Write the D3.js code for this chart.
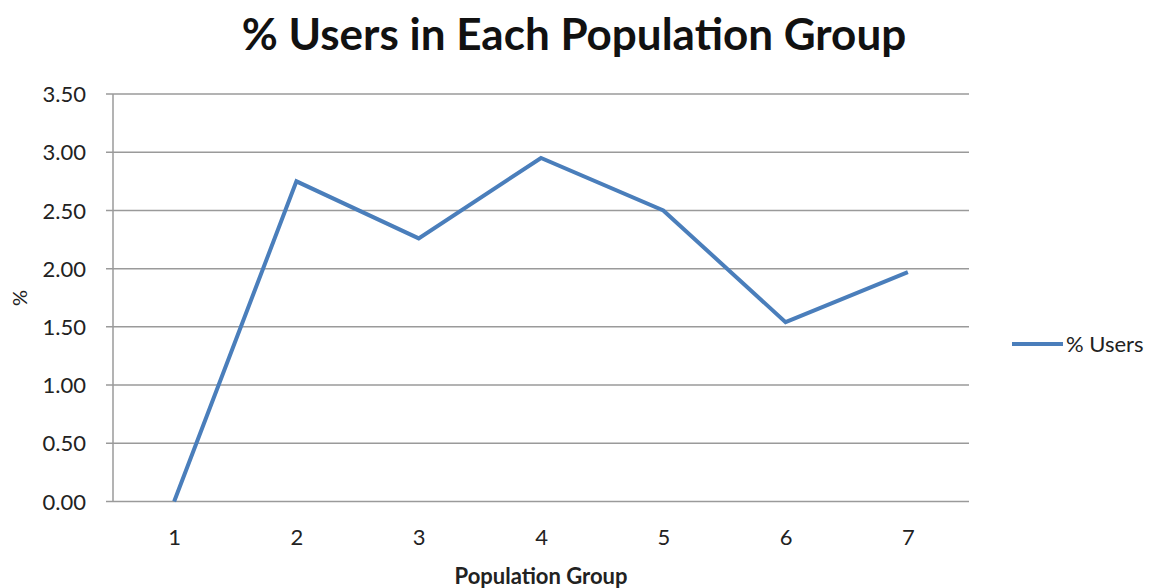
<!DOCTYPE html>
<html><head><meta charset="utf-8">
<script src="https://cdn.jsdelivr.net/npm/d3@7"></script>
<style>body{margin:0;background:#fff;} text{font-family:Lato,"Open Sans",sans-serif;}</style>
</head><body>
<svg id="c" width="1156" height="588"></svg>
<script>
const categories = ["1","2","3","4","5","6","7"];
const seriesName = "% Users";
const values = [0.00, 2.75, 2.26, 2.95, 2.50, 1.54, 1.97];
const yTicks = [0, 0.5, 1, 1.5, 2, 2.5, 3, 3.5];

const svg = d3.select("#c");
const pLeft = 113, pRight = 969, pTop = 94, pBottom = 501.5;
const x = d3.scalePoint().domain(categories).range([pLeft, pRight]).padding(0.5);
const y = d3.scaleLinear().domain([0, 3.5]).range([pBottom, pTop]);

// gridlines
svg.append("g").selectAll("line").data(yTicks).join("line")
  .attr("x1", pLeft - 7).attr("x2", pRight)
  .attr("y1", d => y(d)).attr("y2", d => y(d))
  .attr("stroke", "#9a9a9a").attr("stroke-width", 1.5);
// y axis line
svg.append("line").attr("x1", pLeft).attr("x2", pLeft).attr("y1", pTop).attr("y2", pBottom)
  .attr("stroke", "#9a9a9a").attr("stroke-width", 1.5);

// y labels
const yAxis = d3.axisLeft(y).tickValues(yTicks).tickFormat(d3.format(".2f")).tickSize(0).tickPadding(0);
const ga = svg.append("g").attr("transform", `translate(${pLeft - 27},0)`).call(yAxis);
ga.select(".domain").remove();
ga.selectAll("text").attr("font-size", 22).attr("fill", "#222").attr("font-family", "Lato").attr("dy", "0.35em");

// x labels
const xAxis = d3.axisBottom(x).tickSize(0).tickPadding(0);
const gx = svg.append("g").attr("transform", `translate(0,${pBottom + 36})`).call(xAxis);
gx.select(".domain").remove();
gx.selectAll("text").attr("font-size", 22).attr("fill", "#222").attr("font-family", "Lato").attr("dy", "0.35em");

// line
const line = d3.line().x((d, i) => x(categories[i])).y(d => y(d));
svg.append("path").datum(values).attr("d", line)
  .attr("fill", "none").attr("stroke", "#4a7ebb").attr("stroke-width", 4)
  .attr("stroke-linejoin", "miter");

// title
svg.append("text").attr("x", 574).attr("y", 50).attr("text-anchor", "middle")
  .attr("font-size", 44).attr("font-weight", "bold").attr("fill", "#111").text("% Users in Each Population Group");
// axis titles
svg.append("text").attr("x", 541).attr("y", 584).attr("text-anchor", "middle")
  .attr("font-size", 22).attr("font-weight", "bold").attr("fill", "#222").text("Population Group");
svg.append("text").attr("transform", "translate(27,298) rotate(-90)").attr("text-anchor", "middle")
  .attr("font-size", 20).attr("fill", "#222").text("%");

// legend
svg.append("line").attr("x1", 1012).attr("x2", 1063).attr("y1", 344).attr("y2", 344)
  .attr("stroke", "#4a7ebb").attr("stroke-width", 4);
svg.append("text").attr("x", 1066).attr("y", 344).attr("dy", "0.35em")
  .attr("font-size", 22).attr("fill", "#222").text(seriesName);
</script>
</body></html>
